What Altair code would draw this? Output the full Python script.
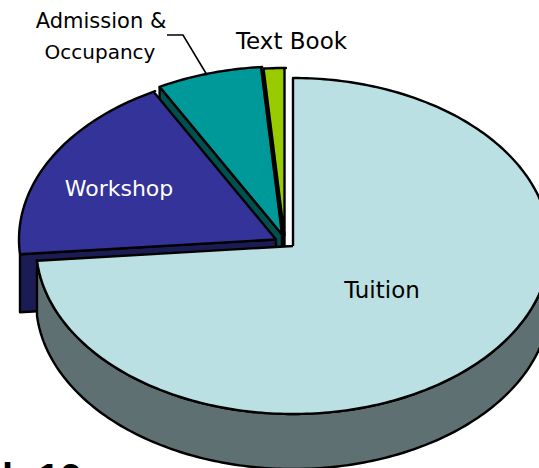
import altair as alt
import numpy as np
import pandas as pd

# Expense shares of the exploded 3-D pie, clockwise from twelve o'clock
categories = ["Tuition", "Workshop", "Admission & Occupancy", "Text Book"]
shares = [73.6, 18.5, 6.6, 1.3]

top_colors = ["#BAE0E3", "#333399", "#009999", "#99CC00"]
side_colors = ["#5F7072", "#1C1C55", "#005050", "#000000"]

# Ellipse of the pie face, wall thickness and the centre of each pulled-out slice
RX, RY, DEPTH = 257, 168, 55
CUT_DEPTH = {"Text Book": 55, "Admission & Occupancy": 55, "Workshop": 58}
centres = {
    "Tuition": (293, 246),
    "Workshop": (276, 239.5),
    "Admission & Occupancy": (282, 234.5),
    "Text Book": (284.5, 236),
}


def rim(cx, cy, start, end, drop=0.0):
    """Points along the ellipse between two clockwise angles in degrees."""
    t = np.radians(np.arange(start, end + 0.5, 1.0))
    t = np.append(t, np.radians(end))
    return list(zip(cx + RX * np.sin(t), cy - RY * np.cos(t) + drop))


spans = {}
angle = 0.0
for name, share in zip(categories, shares):
    spans[name] = (angle, angle + share * 3.6)
    angle += share * 3.6

shapes = []


def add_shape(key, pts, color):
    pts = list(pts) + [pts[0]]
    for i, (x, y) in enumerate(pts):
        shapes.append({"shape": key, "i": i, "x": x, "y": y, "color": color})


# Painted back to front: cut faces first, the front slice last
for name in ["Text Book", "Admission & Occupancy", "Workshop", "Tuition"]:
    idx = categories.index(name)
    cx, cy = centres[name]
    a0, a1 = spans[name]
    if name == "Tuition":
        upper = rim(cx, cy, 90, a1)
        lower = rim(cx, cy, 90, a1, DEPTH)
        add_shape(name + " wall", upper + lower[::-1], side_colors[idx])
    else:
        ex, ey = rim(cx, cy, a0, a0)[0]
        drop = CUT_DEPTH[name]
        add_shape(
            name + " cut",
            [(ex, ey), (cx, cy), (cx, cy + drop), (ex, ey + drop)],
            side_colors[idx],
        )
    add_shape(name + " face", [(cx, cy)] + rim(cx, cy, a0, a1), top_colors[idx])

df = pd.DataFrame(shapes)
x_scale = alt.Scale(domain=[0, 539], range=[0, 539])
y_scale = alt.Scale(domain=[0, 468], range=[0, 468])

layers = []
for key, group in df.groupby("shape", sort=False):
    layers.append(
        alt.Chart(group)
        .mark_line(
            fill=group["color"].iloc[0],
            stroke="#000000",
            strokeWidth=2.4,
            strokeJoin="round",
            clip=True,
        )
        .encode(
            x=alt.X("x:Q", scale=x_scale, axis=None),
            y=alt.Y("y:Q", scale=y_scale, axis=None),
            order="i:O",
        )
    )

# Leader line for the two-line label
leader = pd.DataFrame({"x": [167, 183, 207], "y": [35, 35, 75], "i": [0, 1, 2]})
layers.append(
    alt.Chart(leader)
    .mark_line(stroke="#000000", strokeWidth=1.6)
    .encode(
        x=alt.X("x:Q", scale=x_scale, axis=None),
        y=alt.Y("y:Q", scale=y_scale, axis=None),
        order="i:O",
    )
)

labels = pd.DataFrame(
    {
        "text": ["Admission &", "Occupancy", "Text Book", "Workshop", "Tuition"],
        "x": [101, 100, 291.5, 119, 382],
        "y": [22, 53, 42, 189, 291],
        "size": [21, 20, 23, 22, 23],
        "color": ["#000000", "#000000", "#000000", "#FFFFFF", "#000000"],
    }
)
layers.append(
    alt.Chart(labels)
    .mark_text(font="DejaVu Sans", align="center", baseline="middle")
    .encode(
        x=alt.X("x:Q", scale=x_scale, axis=None),
        y=alt.Y("y:Q", scale=y_scale, axis=None),
        text="text:N",
        size=alt.Size("size:Q", scale=None),
        color=alt.Color("color:N", scale=None),
    )
)

# Start of the caption line below the pie, running off the lower edge
caption = pd.DataFrame({"text": ["h 10"], "x": [2], "y": [492]})
layers.append(
    alt.Chart(caption)
    .mark_text(
        font="Liberation Sans",
        fontWeight="bold",
        fontSize=40,
        align="left",
        baseline="alphabetic",
        color="#000000",
    )
    .encode(
        x=alt.X("x:Q", scale=x_scale, axis=None),
        y=alt.Y("y:Q", scale=y_scale, axis=None),
        text="text:N",
    )
)

chart = (
    alt.layer(*layers)
    .properties(width=539, height=468, padding=0, autosize=alt.AutoSizeParams(type="none"))
    .configure_view(stroke=None)
)

chart.save("out.html", embed_options={"renderer": "svg", "actions": False})
